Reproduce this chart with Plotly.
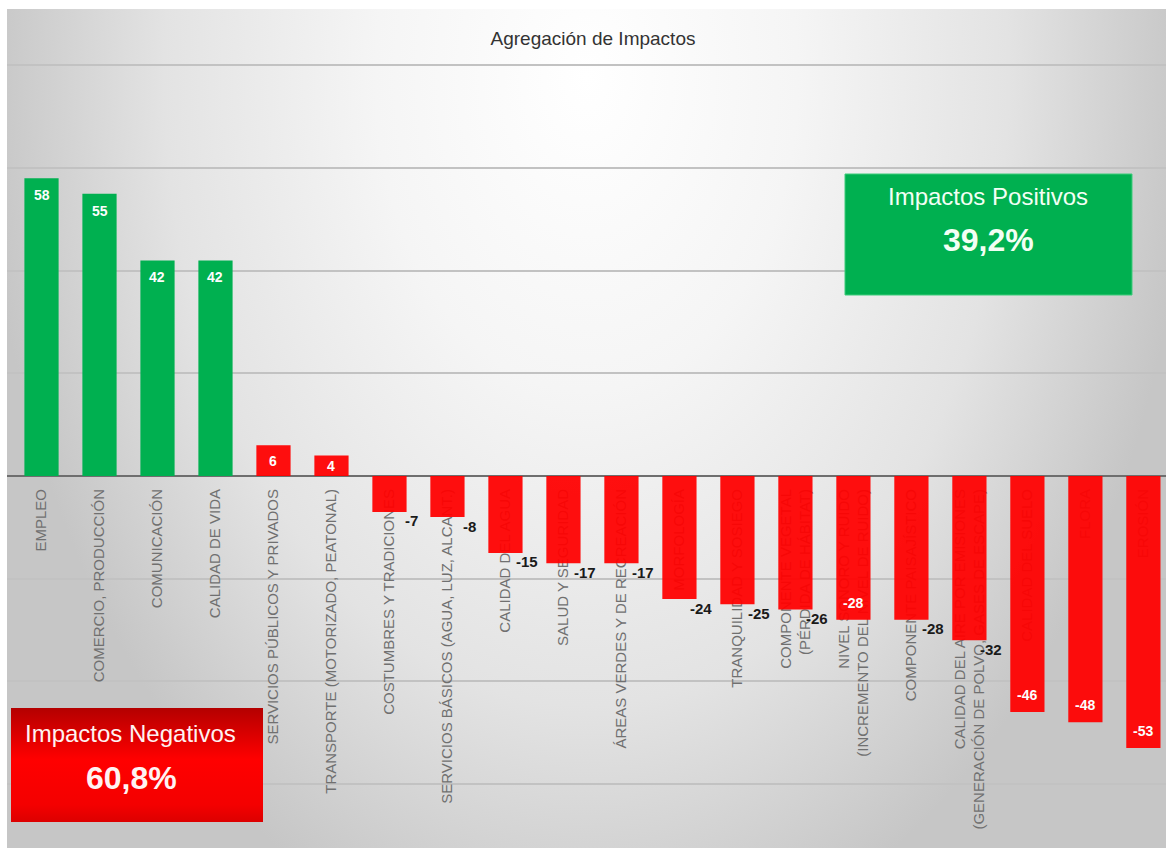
import base64
import plotly.graph_objects as go

# ---- data ---------------------------------------------------------------
categories = [
    "EMPLEO",
    "COMERCIO, PRODUCCIÓN",
    "COMUNICACIÓN",
    "CALIDAD DE VIDA",
    "SERVICIOS PÚBLICOS Y PRIVADOS",
    "TRANSPORTE (MOTORIZADO, PEATONAL)",
    "COSTUMBRES Y TRADICIONES",
    "SERVICIOS BÁSICOS (AGUA, LUZ, ALCANT.)",
    "CALIDAD DEL AGUA",
    "SALUD Y SEGURIDAD",
    "ÁREAS VERDES Y DE RECREACIÓN",
    "MORFOLOGÍA",
    "TRANQUILIDAD Y SOSIEGO",
    "COMPONENTE VEGETAL<br>(PÉRDIDA DE HÁBITAT)",
    "NIVEL SONORO Y RUIDO<br>(INCREMENTO DEL NIVEL DE RUIDO)",
    "COMPONENTE PAISAJÍSTICO",
    "CALIDAD DEL AIRE POR EMISIONES<br>(GENERACIÓN DE POLVO, GASES DE ESCAPE)",
    "CALIDAD DEL SUELO",
    "FLORA",
    "EROSIÓN",
]
values = [58, 55, 42, 42, 6, 4, -7, -8, -15, -17, -17, -24, -25, -26, -28, -28, -32, -46, -48, -53]
impact_group = ["positivo"] * 4 + ["negativo"] * 16

share_positive = "39,2%"
share_negative = "60,8%"
title_text = "Agregación de Impactos"

# ---- styling ------------------------------------------------------------
W, H = 1166, 848
M_L, M_T = 7, 9
PLOT_W, PLOT_H = W - M_L, H - M_T
Y_RANGE = [-72.5, 91.0]
X_RANGE = [-0.595, 19.39]
PX_PER_UNIT = PLOT_H / (Y_RANGE[1] - Y_RANGE[0])

GREEN = "#00B050"
RED = "#FF0000"
NARROW = "Liberation Sans Narrow, Arial Narrow, Liberation Sans, Arial, sans-serif"
SANS = "Liberation Sans, Arial, sans-serif"

bar_colors = [GREEN if g == "positivo" else RED for g in impact_group]
bar_opacity = [1.0 if g == "positivo" else 0.94 for g in impact_group]
# value label drawn inside the bar end (True) or just outside to the right (False)
label_inside = [True] * 6 + [False] * 8 + [True] + [False] * 2 + [True] * 3


def px_x(px):
    return (px - M_L) / PLOT_W


def px_y(py):
    return (H - py) / PLOT_H


def svg_uri(svg):
    return "data:image/svg+xml;base64," + base64.b64encode(svg.encode("utf-8")).decode("ascii")


background_svg = """<svg xmlns="http://www.w3.org/2000/svg" width="1159" height="839"
 viewBox="0 0 1 1" preserveAspectRatio="none">
<defs><radialGradient id="bg" cx="0.5" cy="0.08" r="0.52"
 gradientTransform="translate(0.5,0.08) scale(1,2.06) translate(-0.5,-0.08)">
<stop offset="0" stop-color="#ffffff"/>
<stop offset="0.35" stop-color="#f5f5f5"/>
<stop offset="0.7" stop-color="#e3e3e3"/>
<stop offset="1" stop-color="#c6c6c6"/>
</radialGradient></defs>
<rect x="0" y="0" width="1" height="1" fill="url(#bg)"/>
</svg>"""

red_box_svg = """<svg xmlns="http://www.w3.org/2000/svg" width="252" height="114"
 viewBox="0 0 1 1" preserveAspectRatio="none">
<defs><linearGradient id="rb" x1="0" y1="0" x2="0" y2="1">
<stop offset="0" stop-color="#b40000"/>
<stop offset="0.45" stop-color="#ff0000"/>
<stop offset="0.85" stop-color="#f40000"/>
<stop offset="1" stop-color="#dc0000"/>
</linearGradient></defs>
<rect x="0" y="0" width="1" height="1" fill="url(#rb)"/>
</svg>"""

# ---- figure -------------------------------------------------------------
fig = go.Figure(
    go.Bar(
        x=categories,
        y=values,
        width=0.59,
        marker=dict(color=bar_colors, opacity=bar_opacity, line=dict(width=0)),
        hoverinfo="skip",
    )
)

annotations = []
for i, (v, inside) in enumerate(zip(values, label_inside)):
    txt = f"<b>{v}</b>"
    if inside:
        half = abs(v) * PX_PER_UNIT / 2
        off = min(17, half)
        annotations.append(dict(
            x=i, y=v, xref="x", yref="y", text=txt, showarrow=False,
            xanchor="center", yanchor="middle",
            yshift=-off if v > 0 else off,
            font=dict(family=NARROW, size=14, color="#fdfdfd"),
        ))
    else:
        annotations.append(dict(
            x=i, y=v, xref="x", yref="y", text=txt, showarrow=False,
            xanchor="center", yanchor="middle", xshift=22, yshift=-9,
            font=dict(family=NARROW, size=15, color="#1a1a1a"),
        ))

# summary boxes
annotations += [
    dict(x=px_x(988), y=px_y(196), xref="paper", yref="paper", text="Impactos Positivos",
         showarrow=False, xanchor="center", yanchor="middle",
         font=dict(family=SANS, size=24, color="#f2fff4")),
    dict(x=px_x(988), y=px_y(240), xref="paper", yref="paper", text=f"<b>{share_positive}</b>",
         showarrow=False, xanchor="center", yanchor="middle",
         font=dict(family=SANS, size=32, color="#f2fff4")),
    dict(x=px_x(130), y=px_y(733), xref="paper", yref="paper", text="Impactos Negativos",
         showarrow=False, xanchor="center", yanchor="middle",
         font=dict(family=SANS, size=24, color="#fff2f2")),
    dict(x=px_x(131), y=px_y(778), xref="paper", yref="paper", text=f"<b>{share_negative}</b>",
         showarrow=False, xanchor="center", yanchor="middle",
         font=dict(family=SANS, size=32, color="#fff2f2")),
]

shapes = [
    dict(type="rect", xref="paper", yref="paper", layer="above",
         x0=px_x(845), x1=px_x(1132), y0=px_y(295), y1=px_y(174),
         fillcolor=GREEN, line=dict(color="#3ccc7a", width=1)),
]

images = [
    dict(source=svg_uri(background_svg), xref="paper", yref="paper",
         x=0, y=1, sizex=1, sizey=1, xanchor="left", yanchor="top",
         sizing="stretch", layer="below"),
    dict(source=svg_uri(red_box_svg), xref="paper", yref="paper",
         x=px_x(11), y=px_y(708), sizex=px_x(263) - px_x(11), sizey=px_y(708) - px_y(822),
         xanchor="left", yanchor="top", sizing="stretch", layer="above"),
]

zero_pos = (0 - Y_RANGE[0]) / (Y_RANGE[1] - Y_RANGE[0])

fig.update_layout(
    width=W, height=H,
    margin=dict(l=M_L, r=0, t=M_T, b=0, pad=0, autoexpand=False),
    paper_bgcolor="white",
    plot_bgcolor="rgba(0,0,0,0)",
    showlegend=False,
    hovermode=False,
    title=dict(text=title_text, x=593 / W, y=1 - 38 / H, xref="container", yref="container",
               xanchor="center", yanchor="middle",
               font=dict(family=NARROW, size=19, color="#333333")),
    xaxis=dict(
        type="category", range=X_RANGE, anchor="free", position=zero_pos,
        layer="below traces", tickangle=-90, ticks="", ticklabelstandoff=9,
        tickfont=dict(family=SANS, size=15, color="#707070"),
        showgrid=False, showline=False, zeroline=False, automargin=False, fixedrange=True,
    ),
    yaxis=dict(
        range=Y_RANGE, tick0=0, dtick=20, showticklabels=False, ticks="",
        gridcolor="#c2c2c2", gridwidth=1.5,
        zeroline=True, zerolinecolor="#6e6e6e", zerolinewidth=2,
        showline=False, layer="below traces", automargin=False, fixedrange=True,
    ),
    annotations=annotations,
    shapes=shapes,
    images=images,
)

fig.write_html("out.html", config={"displayModeBar": False})
